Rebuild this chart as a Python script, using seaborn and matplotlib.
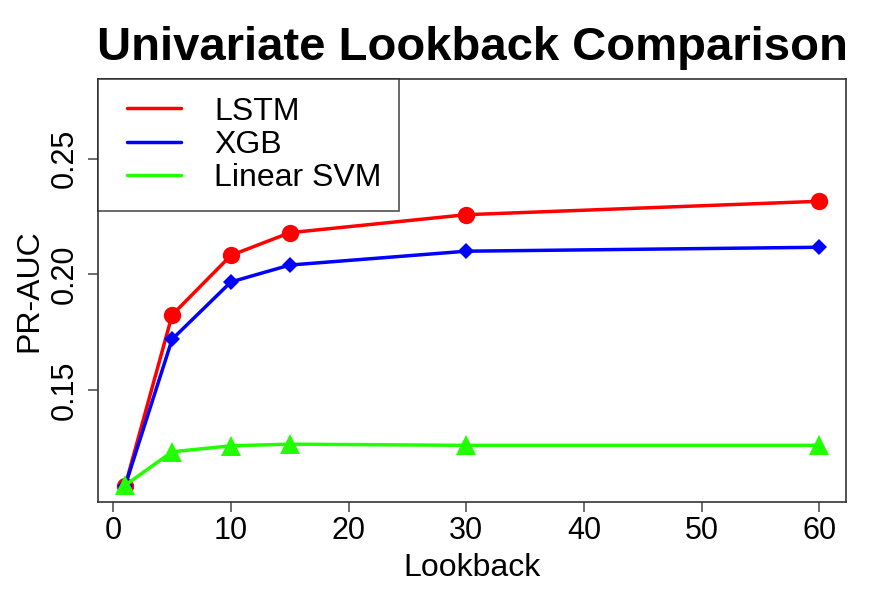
import matplotlib
matplotlib.use("Agg")
import matplotlib.pyplot as plt
from matplotlib.lines import Line2D
from matplotlib.legend_handler import HandlerLine2D
import seaborn as sns
import pandas as pd

lookback = [1, 5, 10, 15, 30, 60]
lstm = [0.1084, 0.1824, 0.2082, 0.2180, 0.2258, 0.2316]
xgb = [0.1084, 0.1719, 0.1967, 0.2040, 0.2100, 0.2117]
svm = [0.1087, 0.1232, 0.1258, 0.1265, 0.1260, 0.1260]
series_names = ["LSTM", "XGB", "Linear SVM"]
x_ticks = [0, 10, 20, 30, 40, 50, 60]
y_ticks = [0.15, 0.20, 0.25]
y_tick_labels = ["0.15", "0.20", "0.25"]

sns.set_style("white")
plt.rcParams['font.family'] = ['Liberation Sans', 'DejaVu Sans']
plt.rcParams['text.color'] = 'black'
plt.rcParams['axes.labelcolor'] = 'black'
plt.rcParams['xtick.labelcolor'] = 'black'
plt.rcParams['ytick.labelcolor'] = 'black'

fig = plt.figure(figsize=(8.87, 6.0), dpi=100)
ax = fig.add_axes([0.1101, 0.1638, 0.9541 - 0.1101, 0.8683 - 0.1638])

styles = [
    (lstm, "#ff0000", "o", 12.5),
    (xgb, "#0000ff", "D", 8.5),
    (svm, "#22ff00", "^", 14),
]
handles = []
for (vals, color, marker, ms), name in zip(styles, series_names):
    df = pd.DataFrame({"Lookback": lookback, "PR-AUC": vals})
    sns.lineplot(data=df, x="Lookback", y="PR-AUC", ax=ax, color=color,
                 marker=marker, markersize=ms, markeredgewidth=0,
                 linewidth=2.5, legend=False)
    handles.append(Line2D([0], [0], color=color, linewidth=2.5, label=name))

ax.set_xlim(-1.33, 62.3)
ax.set_ylim(0.1016, 0.2845)
ax.set_xticks(x_ticks)
ax.set_yticks(y_ticks)
ax.set_yticklabels(y_tick_labels, rotation=90, va="center")
ax.tick_params(axis="both", direction="out", length=7, width=1.2,
               color="#555555", labelsize=22, left=True, bottom=True)
ax.tick_params(axis="x", pad=3)
ax.tick_params(axis="y", pad=6)
for s in ax.spines.values():
    s.set_color("#333333")
    s.set_linewidth(1.2)

ax.set_xlabel("Lookback", fontsize=23, labelpad=5)
ax.set_ylabel("PR-AUC", fontsize=23, labelpad=4)
ax.set_title("Univariate Lookback Comparison", fontsize=34, fontweight="bold", pad=14)

leg = ax.legend(handles=handles, loc="upper left", fontsize=23, frameon=True,
                fancybox=False, borderaxespad=0, handlelength=2.45, numpoints=2,
                handler_map={Line2D: HandlerLine2D(marker_pad=0.38)},
                handletextpad=0.65, labelspacing=0.1, borderpad=0.55)
leg.get_frame().set_edgecolor("#222222")
leg.get_frame().set_linewidth(1.2)

fig.savefig("out.png", dpi=100)
